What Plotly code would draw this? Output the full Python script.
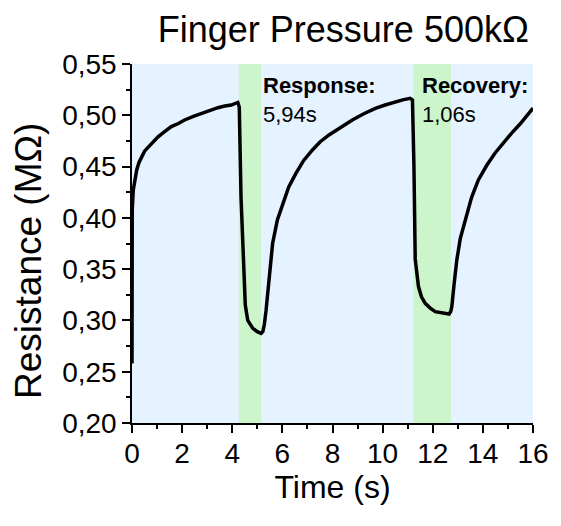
import plotly.graph_objects as go

# Data
time_s = [0.0, 0.0, 0.01, 0.05, 0.12, 0.19, 0.28, 0.38, 0.50, 0.65, 0.84, 1.04, 1.30, 1.57, 1.85, 2.10, 2.45,
          2.77, 3.10, 3.43, 3.70, 3.96, 4.22, 4.28, 4.35, 4.45, 4.52, 4.62, 4.82, 5.00, 5.15, 5.22, 5.28,
          5.35, 5.41, 5.50, 5.61, 5.80, 6.01, 6.25, 6.54, 6.85, 7.20, 7.50, 7.86, 8.30, 8.79, 9.25, 9.71,
          10.10, 10.51, 10.80, 11.10, 11.19, 11.25, 11.30, 11.43, 11.55, 11.70, 11.90, 12.10, 12.40, 12.65,
          12.72, 12.76, 12.85, 12.96, 13.10, 13.29, 13.55, 13.82, 14.15, 14.48, 14.80, 15.14, 15.50, 15.93, 16.0]
resistance = [0.258, 0.400, 0.408, 0.427, 0.439, 0.447, 0.454, 0.460, 0.465, 0.469, 0.474, 0.479, 0.484,
              0.489, 0.492, 0.4954, 0.499, 0.502, 0.505, 0.5074, 0.509, 0.510, 0.5125, 0.508, 0.420, 0.345,
              0.315, 0.300, 0.2923, 0.289, 0.2874, 0.289, 0.296, 0.310, 0.3264, 0.350, 0.375, 0.398, 0.414,
              0.430, 0.4434, 0.456, 0.4662, 0.474, 0.4808, 0.488, 0.4954, 0.5015, 0.5068, 0.510, 0.5133,
              0.515, 0.5166, 0.515, 0.450, 0.360, 0.333, 0.323, 0.3167, 0.312, 0.3085, 0.307, 0.3063, 0.309,
              0.3134, 0.335, 0.359, 0.380, 0.398, 0.420, 0.437, 0.451, 0.463, 0.473, 0.4824, 0.492, 0.505, 0.507]

band_start = [4.26, 11.23]
band_end = [5.15, 12.73]

labels = ["Response:", "Recovery:"]
values = ["5,94s", "1,06s"]
label_x = [5.16, 11.48]

x_range = [0, 16]
y_range = [0.20, 0.55]

FONT = "Liberation Sans, Arial, sans-serif"

fig = go.Figure()
fig.add_trace(go.Scatter(x=time_s, y=resistance, mode="lines",
                         line=dict(color="black", width=3.5), showlegend=False, hoverinfo="skip"))

for s, e in zip(band_start, band_end):
    fig.add_shape(type="rect", xref="x", yref="paper", x0=s, x1=e, y0=0, y1=1,
                  fillcolor="#CCF5CC", line=dict(width=0), layer="below")

for lx, lab, val in zip(label_x, labels, values):
    fig.add_annotation(x=lx, y=0.5286, xref="x", yref="y", text="<b>" + lab + "</b>",
                       showarrow=False, xanchor="left", yanchor="middle",
                       font=dict(family=FONT, size=22, color="black"))
    fig.add_annotation(x=lx, y=0.5003, xref="x", yref="y", text=val,
                       showarrow=False, xanchor="left", yanchor="middle",
                       font=dict(family=FONT, size=22, color="black"))

# y-axis title as a rotated annotation (positioned like the reference)
fig.add_annotation(x=-0.258, y=0.45, xref="paper", yref="paper", text="Resistance (MΩ)",
                   textangle=-90, showarrow=False, xanchor="center", yanchor="middle",
                   font=dict(family=FONT, size=37, color="black"))

axis_common = dict(showgrid=False, zeroline=False, linecolor="black", linewidth=1.5,
                   tickcolor="black", tickwidth=1.5)

fig.update_layout(
    width=561, height=526,
    margin=dict(l=132, r=26, t=64, b=103),
    paper_bgcolor="white", plot_bgcolor="#E5F2FF",
    separators=", ",
    font=dict(family=FONT, color="black"),
    title=dict(text="Finger Pressure 500kΩ", x=0.612, xanchor="center", y=0.945, yanchor="middle",
               font=dict(family=FONT, size=36, color="black")),
    xaxis=dict(range=x_range, dtick=2, tick0=0, ticks="outside", ticklen=8, ticklabelstandoff=-3,
               minor=dict(dtick=1, ticks="outside", ticklen=4, tickcolor="black", tickwidth=1.5),
               tickfont=dict(size=28), title=dict(text="Time (s)", font=dict(size=32), standoff=6),
               **axis_common),
    yaxis=dict(range=y_range, dtick=0.05, tick0=0.2, tickformat=".2f", ticks="outside", ticklen=8,
               minor=dict(dtick=0.025, ticks="outside", ticklen=4, tickcolor="black", tickwidth=1.5),
               tickfont=dict(size=28), **axis_common),
    xaxis2=dict(range=x_range, dtick=2, tick0=0, ticks="inside", ticklen=8, overlaying="x", side="top",
                showticklabels=False,
                minor=dict(dtick=1, ticks="inside", ticklen=4, tickcolor="black", tickwidth=1.5),
                **axis_common),
    yaxis2=dict(range=y_range, dtick=0.05, tick0=0.2, ticks="inside", ticklen=8, overlaying="y", side="right",
                showticklabels=False,
                minor=dict(dtick=0.025, ticks="inside", ticklen=4, tickcolor="black", tickwidth=1.5),
                **axis_common),
)

fig.write_html("out.html")
